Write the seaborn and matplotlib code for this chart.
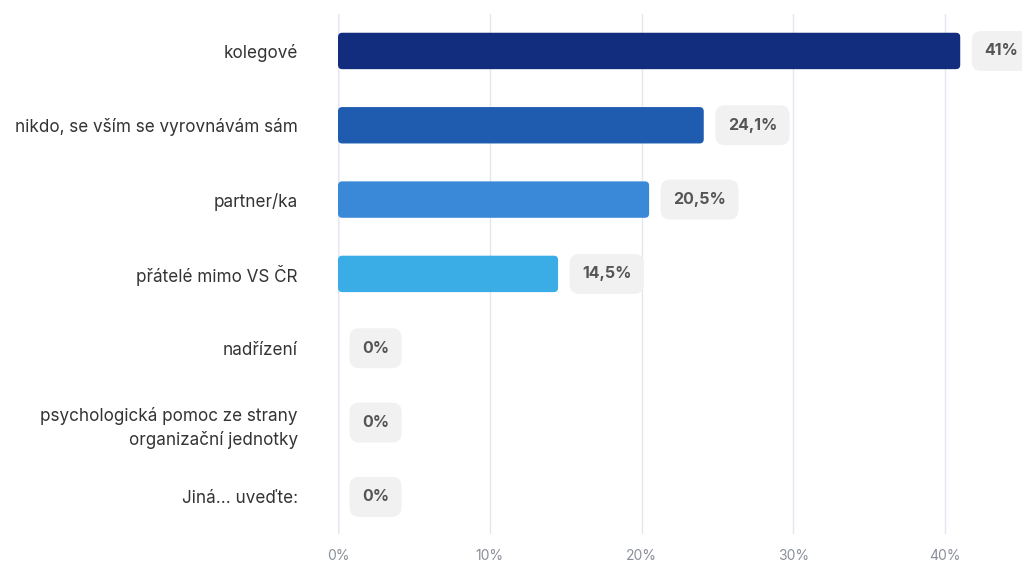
import pandas as pd
import matplotlib.pyplot as plt
import seaborn as sns
from matplotlib.patches import FancyBboxPatch
from matplotlib.ticker import FuncFormatter

# --- Data ---
categories = [
    "kolegové",
    "nikdo, se vším se vyrovnávám sám",
    "partner/ka",
    "přátelé mimo VS ČR",
    "nadřízení",
    "psychologická pomoc ze strany\norganizační jednotky",
    "Jiná... uveďte:",
]
values = [41, 24.1, 20.5, 14.5, 0, 0, 0]
value_labels = ["41%", "24,1%", "20,5%", "14,5%", "0%", "0%", "0%"]
bar_colors = ["#132d7e", "#1f5cb0", "#3a88d8", "#3aace6", "#3aace6", "#3aace6", "#3aace6"]
x_ticks = [0, 10, 20, 30, 40]


def main():
    sns.set_style("white")
    plt.rcParams["font.family"] = ["Inter", "DejaVu Sans"]

    df = pd.DataFrame({"category": categories, "value": values})

    fig = plt.figure(figsize=(10.22, 5.63), dpi=100)
    ax = fig.add_axes([338 / 1022, 0.0515, 1 - 338 / 1022, 0.924])

    sns.barplot(
        data=df, x="value", y="category", hue="category",
        palette=bar_colors, legend=False, width=0.49, ax=ax, saturation=1,
    )

    ax.set_xlim(0, 45.07)
    ax.set_xticks(x_ticks)
    ax.xaxis.set_major_formatter(FuncFormatter(lambda v, _: f"{v:.0f}%"))
    ax.tick_params(axis="x", length=0, pad=11, labelsize=10, labelcolor="#8a8f98")
    ax.tick_params(axis="y", length=0, pad=29, labelsize=12.3, labelcolor="#333333")
    for t in ax.get_yticklabels():
        t.set_linespacing(1.45)
    ax.set_xlabel("")
    ax.set_ylabel("")

    # --- rounded bar corners ---
    for p in list(ax.patches):
        x0, y0 = p.get_x(), p.get_y()
        w, h = p.get_width(), p.get_height()
        if w <= 0:
            p.remove()
            continue
        rounded = FancyBboxPatch(
            (x0, y0), w, h, boxstyle="round,pad=0,rounding_size=0.28",
            mutation_aspect=0.205, facecolor=p.get_facecolor(),
            edgecolor="none", zorder=p.get_zorder(),
        )
        p.remove()
        ax.add_patch(rounded)

    # --- grid ---
    ax.grid(axis="x", color="#e3e6ee", linewidth=1)
    ax.set_axisbelow(True)
    for s in ax.spines.values():
        s.set_visible(False)
    ax.axvline(0, color="#cfd6e6", linewidth=1, zorder=0.5)

    # --- value badges ---
    for i, (v, lab) in enumerate(zip(values, value_labels)):
        ax.annotate(
            lab, xy=(v, i), xytext=(17.3, 0), textcoords="offset points",
            ha="left", va="center", fontsize=11.5, fontweight="bold",
            color="#555555",
            bbox=dict(boxstyle="round,pad=0.78,rounding_size=0.6",
                      facecolor="#f1f1f2", edgecolor="none"),
            annotation_clip=False,
        )

    fig.savefig("out.png", dpi=100)


if __name__ == "__main__":
    main()
